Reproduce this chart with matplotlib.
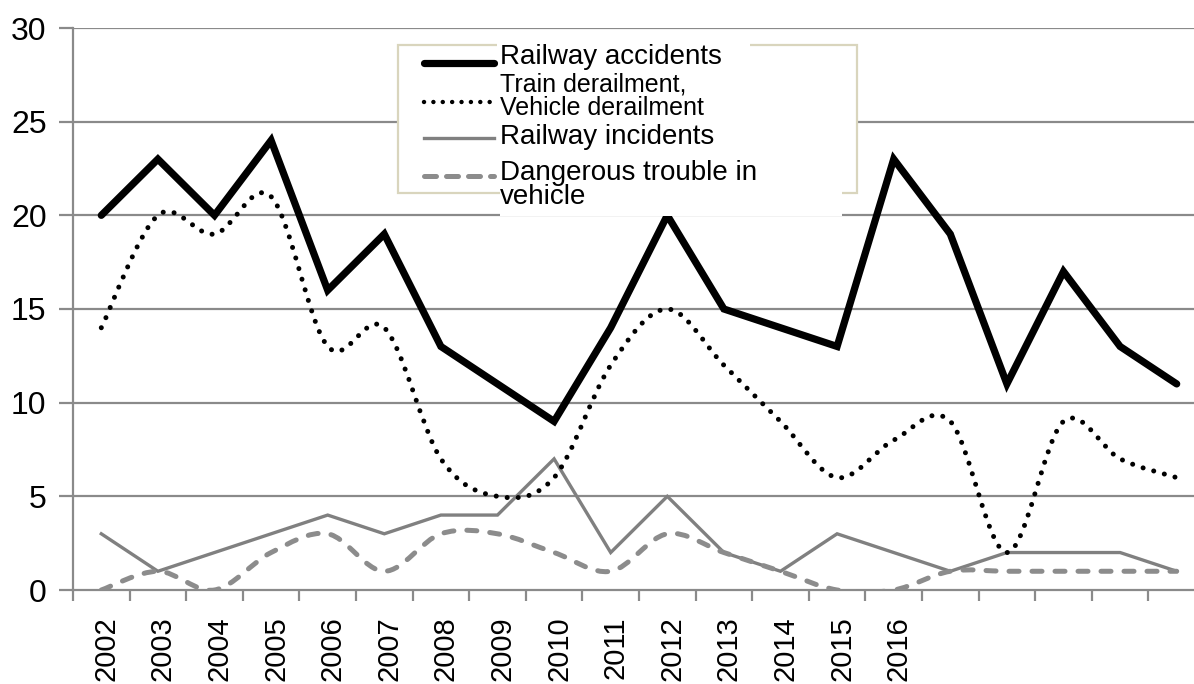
import numpy as np
import matplotlib
matplotlib.use("Agg")
import matplotlib.pyplot as plt
import matplotlib.transforms as mtransforms
from matplotlib.path import Path
from matplotlib.patches import PathPatch, Rectangle
from matplotlib.lines import Line2D

plt.rcParams['font.family'] = ['Liberation Sans', 'DejaVu Sans']

years = list(range(2002, 2022))
tick_labels = [str(y) for y in range(2002, 2017)] + [""] * 5
railway_accidents = [20, 23, 20, 24, 16, 19, 13, 11, 9, 14, 20, 15, 14, 13, 23, 19, 11, 17, 13, 11]
derailments = [14, 20, 19, 21, 13, 14, 7, 5, 6, 12, 15, 12, 9, 6, 8, 9, 2, 9, 7, 6]
railway_incidents = [3, 1, 2, 3, 4, 3, 4, 4, 7, 2, 5, 2, 1, 3, 2, 1, 2, 2, 2, 1]
dangerous_trouble = [0, 1, 0, 2, 3, 1, 3, 3, 2, 1, 3, 2, 1, 0, 0, 1, 1, 1, 1, 1]

legend_labels = ["Railway accidents", "Train derailment,\nVehicle derailment",
                 "Railway incidents", "Dangerous trouble in\nvehicle"]

W, H = 1194, 684
fig = plt.figure(figsize=(W / 100, H / 100), dpi=100)
ax = fig.add_axes([73 / W, 1 - 590 / H, (1205 - 73) / W, (590 - 28) / H])

x = np.arange(len(years))


def smooth_path(xs, ys):
    xs = np.asarray(xs, float)
    ys = np.asarray(ys, float)
    n = len(xs)
    verts = [(xs[0], ys[0])]
    codes = [Path.MOVETO]
    for i in range(n - 1):
        p0 = np.array([xs[max(i - 1, 0)], ys[max(i - 1, 0)]])
        p1 = np.array([xs[i], ys[i]])
        p2 = np.array([xs[i + 1], ys[i + 1]])
        p3 = np.array([xs[min(i + 2, n - 1)], ys[min(i + 2, n - 1)]])
        c1 = p1 + (p2 - p0) / 6.0
        c2 = p2 - (p3 - p1) / 6.0
        verts += [tuple(c1), tuple(c2), tuple(p2)]
        codes += [Path.CURVE4] * 3
    return Path(verts, codes)


grid_color = "#8a8a8a"
for yv in [5, 10, 15, 20, 25, 30]:
    ax.axhline(yv, color=grid_color, lw=1.6, zorder=1)

# series
ax.plot(x, railway_incidents, color="#808080", lw=2.4, solid_joinstyle="miter", zorder=3)
dash_patch = PathPatch(smooth_path(x, dangerous_trouble), facecolor="none", edgecolor="#8c8c8c",
                       lw=3.6, linestyle=(0, (2.0, 2.6)), capstyle="round", zorder=3)
ax.add_patch(dash_patch)
dot_patch = PathPatch(smooth_path(x, derailments), facecolor="none", edgecolor="black",
                      lw=3.6, linestyle=(0, (0.01, 2.2)), capstyle="round", zorder=4)
ax.add_patch(dot_patch)
ax.plot(x, railway_accidents, color="black", lw=5.2, solid_joinstyle="miter",
        solid_capstyle="round", zorder=5)

ax.set_xlim(-0.5, len(years) - 0.5)
ax.set_ylim(0, 30)
ax.set_yticks([0, 5, 10, 15, 20, 25, 30])
ax.tick_params(axis="y", length=10, width=1.6, color=grid_color, pad=9, labelsize=23)

ax.set_xticks(x)
ax.set_xticklabels(tick_labels, rotation=90, va="top", ha="center")
ax.tick_params(axis="x", which="major", length=0, pad=19, labelsize=21)
offset = mtransforms.ScaledTranslation(5 / 100, 0, fig.dpi_scale_trans)
for lab in ax.get_xticklabels():
    lab.set_transform(lab.get_transform() + offset)
ax.set_xticks(np.arange(len(years) + 1) - 0.5, minor=True)
ax.tick_params(axis="x", which="minor", length=8, width=1.6, color=grid_color)

for s in ["top", "right"]:
    ax.spines[s].set_visible(False)
ax.spines["left"].set_color(grid_color)
ax.spines["left"].set_linewidth(1.6)
ax.spines["bottom"].set_color(grid_color)
ax.spines["bottom"].set_linewidth(1.6)
ax.spines["left"].set_zorder(2)


# manual legend (figure pixel coordinates)
def fx(px):
    return px / W


def fy(py):
    return 1 - py / H


def white_box(x0, y0, x1, y1, z):
    fig.patches.append(Rectangle((fx(x0), fy(y1)), fx(x1) - fx(x0), fy(y0) - fy(y1),
                                 transform=fig.transFigure, facecolor="white",
                                 edgecolor="none", zorder=z))


fig.patches.append(Rectangle((fx(398), fy(193)), fx(857) - fx(398), fy(45) - fy(193),
                             transform=fig.transFigure, facecolor="white",
                             edgecolor="#d9d5bd", lw=1.6, zorder=10))
# text frames that overlap the legend border and the plot behind it
white_box(497, 42, 750, 60, 10.5)
white_box(500, 150, 842, 216, 10.5)

styles = [
    dict(color="black", lw=5.2, solid_capstyle="round"),
    dict(color="black", lw=3.2, linestyle=(0, (0.01, 2.1)), dash_capstyle="round"),
    dict(color="#808080", lw=2.4),
    dict(color="#8c8c8c", lw=3.6, linestyle=(0, (2.4, 2.0)), dash_capstyle="round"),
]
line_y = [63, 102, 138, 176]
text_y = [57, 96, 137, 185]
sizes = [20, 18, 20, 20]
for st, ly, ty, lab, fs in zip(styles, line_y, text_y, legend_labels, sizes):
    fig.lines.append(Line2D([fx(424), fx(494)], [fy(ly), fy(ly)], transform=fig.transFigure,
                            zorder=11, **st))
    fig.text(fx(500), fy(ty), lab, fontsize=fs, va="center", ha="left", zorder=12,
             linespacing=0.95)

fig.savefig("out.png", dpi=100)
